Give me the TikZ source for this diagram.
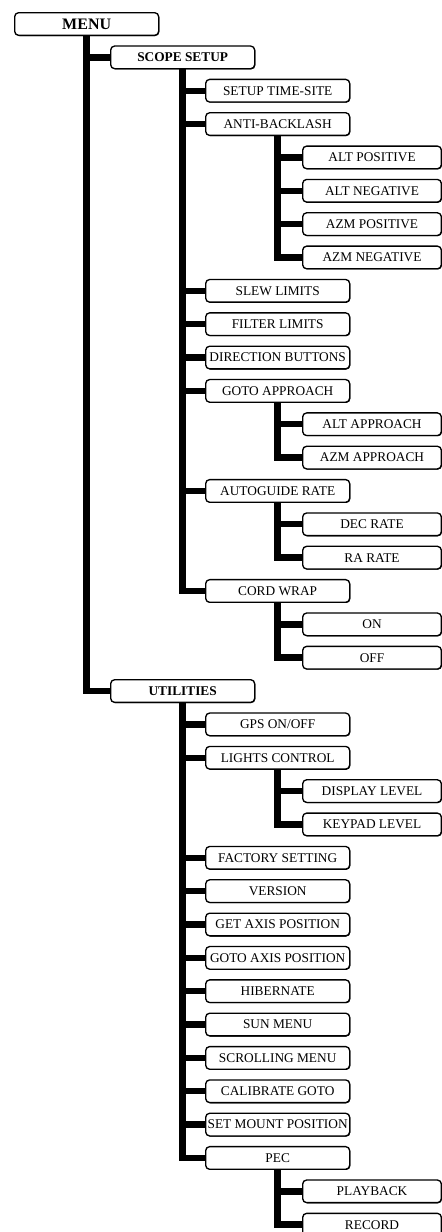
\documentclass[tikz,border=0pt]{standalone}
\usepackage{fontspec}
\setmainfont{Liberation Serif}
\usetikzlibrary{shadows}
\tikzset{
  item/.style={draw, line width=1pt, rounded corners=3pt, fill=white,
    minimum width=108pt, minimum height=17pt, inner xsep=1.5pt, inner ysep=0pt,
    anchor=west, font=\fontsize{10}{12}\selectfont,
    drop shadow={shadow xshift=0.5pt, shadow yshift=-0.5pt, opacity=1, fill=black}},
  head/.style={item, font=\fontsize{10}{12}\selectfont\bfseries},
  leaf/.style={item, minimum width=104pt},
  branch/.style={line width=4.8pt},
}
\begin{document}
\begin{tikzpicture}[x=0.75pt,y=-25.0125pt]
\useasboundingbox (0,-0.72) rectangle (441,36.22);
% top level
\node [head, font=\fontsize{12}{14}\selectfont\bfseries] (menu) at (14,0) {MENU};
\node [head] (scope) at (110,1) {SCOPE SETUP};
\node [head] (util) at (110,20) {UTILITIES};
% scope setup
\node [item] (time) at (205,2) {SETUP TIME-SITE};
\node [item] (anti) at (205,3) {ANTI-BACKLASH};
\node [leaf] (altpos) at (302,4) {ALT POSITIVE};
\node [leaf] (altneg) at (302,5) {ALT NEGATIVE};
\node [leaf] (azmpos) at (302,6) {AZM POSITIVE};
\node [leaf] (azmneg) at (302,7) {AZM NEGATIVE};
\node [item] (slew) at (205,8) {SLEW LIMITS};
\node [item] (filter) at (205,9) {FILTER LIMITS};
\node [item] (dir) at (205,10) {DIRECTION BUTTONS};
\node [item] (goto) at (205,11) {GOTO APPROACH};
\node [leaf] (altapp) at (302,12) {ALT APPROACH};
\node [leaf] (azmapp) at (302,13) {AZM APPROACH};
\node [item] (guide) at (205,14) {AUTOGUIDE RATE};
\node [leaf] (dec) at (302,15) {DEC RATE};
\node [leaf] (ra) at (302,16) {RA RATE};
\node [item] (cord) at (205,17) {CORD WRAP};
\node [leaf] (on) at (302,18) {ON};
\node [leaf] (off) at (302,19) {OFF};
% utilities
\node [item] (gps) at (205,21) {GPS ON/OFF};
\node [item] (lights) at (205,22) {LIGHTS CONTROL};
\node [leaf] (display) at (302,23) {DISPLAY LEVEL};
\node [leaf] (keypad) at (302,24) {KEYPAD LEVEL};
\node [item] (factory) at (205,25) {FACTORY SETTING};
\node [item] (version) at (205,26) {VERSION};
\node [item] (getaxis) at (205,27) {GET AXIS POSITION};
\node [item] (gotoaxis) at (205,28) {GOTO AXIS POSITION};
\node [item] (hib) at (205,29) {HIBERNATE};
\node [item] (sun) at (205,30) {SUN MENU};
\node [item] (scroll) at (205,31) {SCROLLING MENU};
\node [item] (calib) at (205,32) {CALIBRATE GOTO};
\node [item] (mount) at (205,33) {SET MOUNT POSITION};
\node [item] (pec) at (205,34) {PEC};
\node [leaf] (play) at (302,35) {PLAYBACK};
\node [leaf] (record) at (302,36) {RECORD};
% connectors
\draw [branch] (menu.south) |- (scope.west);
\draw [branch] (menu.south) |- (util.west);
\draw [branch] (scope.south) |- (time.west);
\draw [branch] (scope.south) |- (anti.west);
\draw [branch] (scope.south) |- (slew.west);
\draw [branch] (scope.south) |- (filter.west);
\draw [branch] (scope.south) |- (dir.west);
\draw [branch] (scope.south) |- (goto.west);
\draw [branch] (scope.south) |- (guide.west);
\draw [branch] (scope.south) |- (cord.west);
\draw [branch] (anti.south) |- (altpos.west);
\draw [branch] (anti.south) |- (altneg.west);
\draw [branch] (anti.south) |- (azmpos.west);
\draw [branch] (anti.south) |- (azmneg.west);
\draw [branch] (goto.south) |- (altapp.west);
\draw [branch] (goto.south) |- (azmapp.west);
\draw [branch] (guide.south) |- (dec.west);
\draw [branch] (guide.south) |- (ra.west);
\draw [branch] (cord.south) |- (on.west);
\draw [branch] (cord.south) |- (off.west);
\draw [branch] (util.south) |- (gps.west);
\draw [branch] (util.south) |- (lights.west);
\draw [branch] (util.south) |- (factory.west);
\draw [branch] (util.south) |- (version.west);
\draw [branch] (util.south) |- (getaxis.west);
\draw [branch] (util.south) |- (gotoaxis.west);
\draw [branch] (util.south) |- (hib.west);
\draw [branch] (util.south) |- (sun.west);
\draw [branch] (util.south) |- (scroll.west);
\draw [branch] (util.south) |- (calib.west);
\draw [branch] (util.south) |- (mount.west);
\draw [branch] (util.south) |- (pec.west);
\draw [branch] (lights.south) |- (display.west);
\draw [branch] (lights.south) |- (keypad.west);
\draw [branch] (pec.south) |- (play.west);
\draw [branch] (pec.south) |- (record.west);
\end{tikzpicture}
\end{document}
